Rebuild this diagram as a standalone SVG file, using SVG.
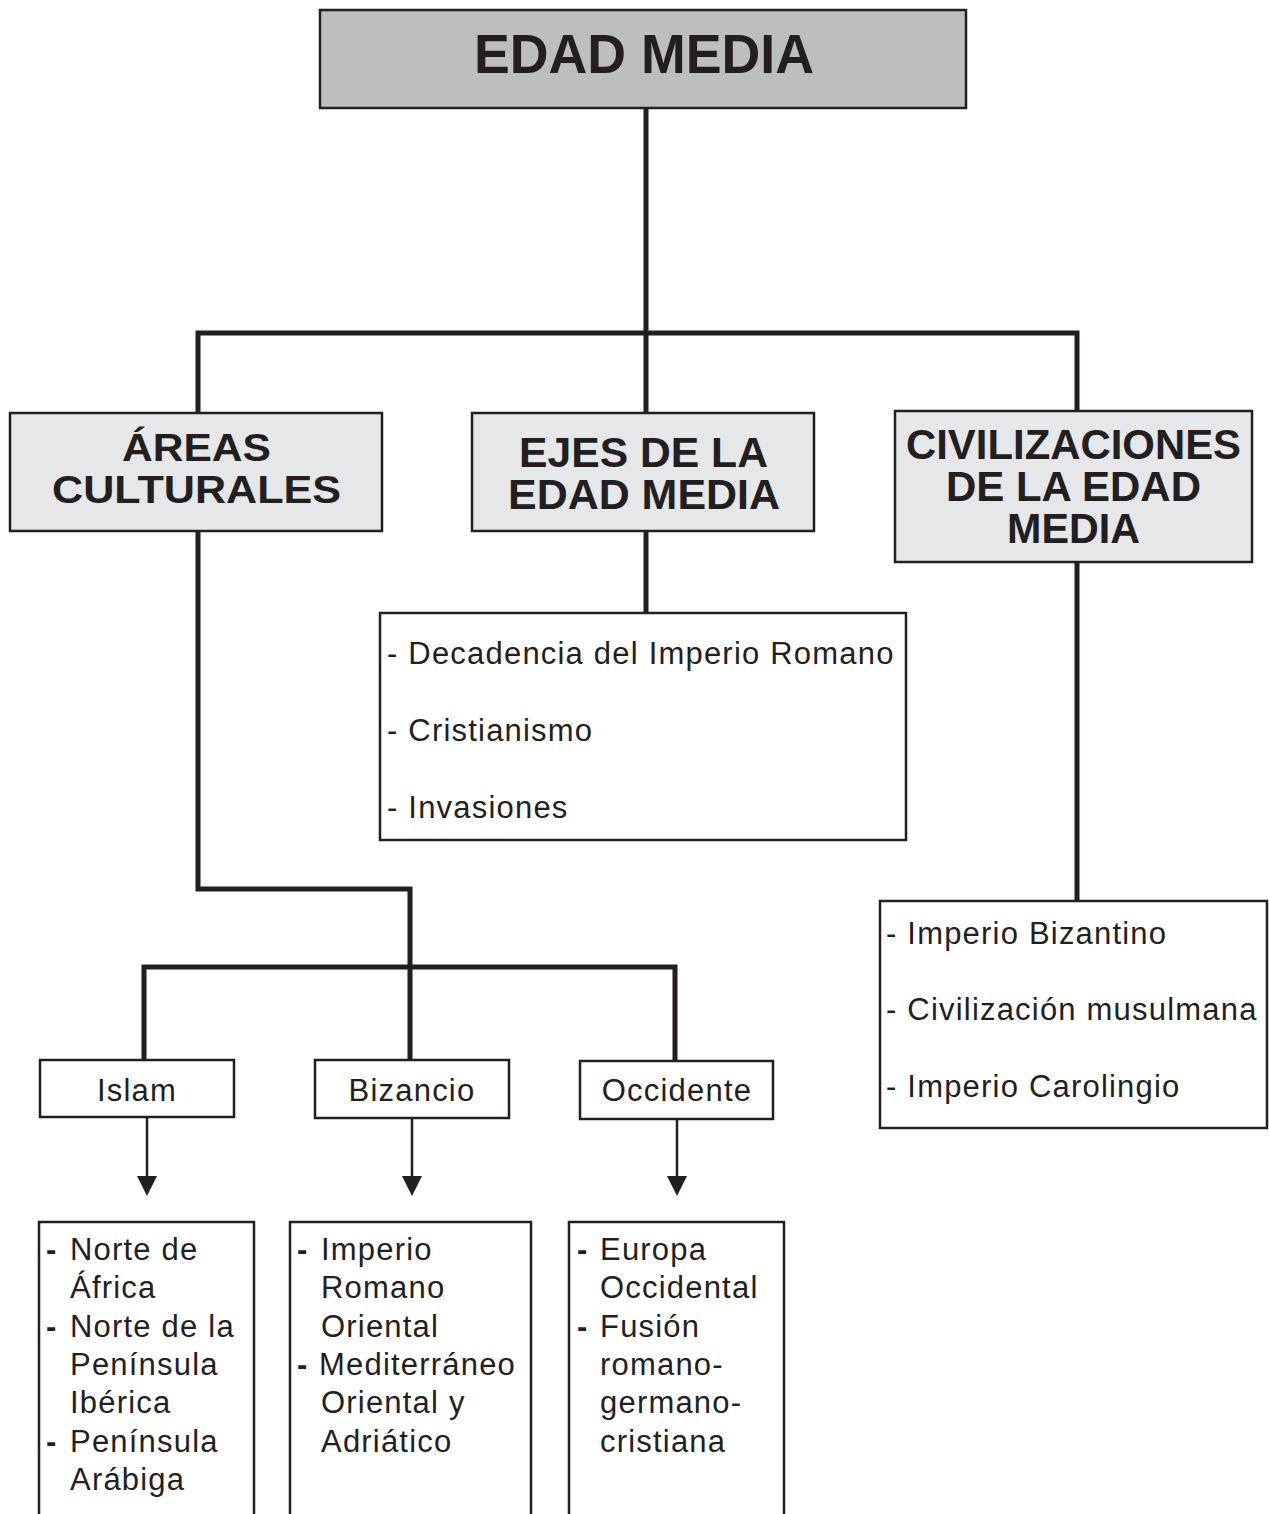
<svg xmlns="http://www.w3.org/2000/svg" width="1269" height="1514" viewBox="0 0 1269 1514">
  <style>
    .box { stroke: #231f20; stroke-width: 2.5; }
    .main { fill: #bcbec0; }
    .head { fill: #e6e7e8; }
    .plain { fill: #ffffff; }
    .conn { fill: none; stroke: #231f20; stroke-width: 5; stroke-linejoin: miter; stroke-linecap: square; }
    .thin { fill: none; stroke: #231f20; stroke-width: 2.5; }
    .tri { fill: #231f20; }
    .title { font-family: "Liberation Sans", Arial, sans-serif; font-weight: bold; fill: #231f20; }
    .body { font-family: "Liberation Sans", Arial, sans-serif; font-size: 31px; letter-spacing: 1.2px; fill: #231f20; }
    .dash { font-weight: bold; }
  </style>
  <rect width="1269" height="1514" fill="#ffffff"/>

  <!-- connectors -->
  <g id="connectors">
    <path class="conn" d="M646,108 V333 M198,333 H1077 M198,333 V413 M646,333 V413 M1077,333 V411"/>
    <path class="conn" d="M646,531 V613"/>
    <path class="conn" d="M1077,562 V901"/>
    <path class="conn" d="M198,531 V889 H410 V1060"/>
    <path class="conn" d="M144,1060 V967 H675 V1061"/>
    <path class="thin" d="M147,1117 V1180 M412,1118 V1180 M677,1119 V1180"/>
    <polygon class="tri" points="137,1176 157,1176 147,1196"/>
    <polygon class="tri" points="402,1176 422,1176 412,1196"/>
    <polygon class="tri" points="667,1176 687,1176 677,1196"/>
  </g>

  <!-- root -->
  <g id="edad-media">
    <rect class="box main" x="320" y="10" width="646" height="98"/>
    <text class="title" x="474" y="73" font-size="56" textLength="340" lengthAdjust="spacingAndGlyphs">EDAD MEDIA</text>
  </g>

  <!-- second level -->
  <g id="areas-culturales">
    <rect class="box head" x="10" y="413" width="372" height="118"/>
    <text class="title" x="122" y="461" font-size="38" textLength="149" lengthAdjust="spacingAndGlyphs">ÁREAS</text>
    <text class="title" x="52" y="503" font-size="38" textLength="289" lengthAdjust="spacingAndGlyphs">CULTURALES</text>
  </g>
  <g id="ejes">
    <rect class="box head" x="472" y="413" width="342" height="118"/>
    <text class="title" x="519" y="467" font-size="43" textLength="249" lengthAdjust="spacingAndGlyphs">EJES DE LA</text>
    <text class="title" x="508" y="509" font-size="43" textLength="272" lengthAdjust="spacingAndGlyphs">EDAD MEDIA</text>
  </g>
  <g id="civilizaciones">
    <rect class="box head" x="895" y="411" width="357" height="151"/>
    <text class="title" x="906" y="459" font-size="43" textLength="335" lengthAdjust="spacingAndGlyphs">CIVILIZACIONES</text>
    <text class="title" x="946" y="501" font-size="43" textLength="255" lengthAdjust="spacingAndGlyphs">DE LA EDAD</text>
    <text class="title" x="1007" y="543" font-size="43" textLength="133" lengthAdjust="spacingAndGlyphs">MEDIA</text>
  </g>

  <!-- lists -->
  <g id="ejes-lista">
    <rect class="box plain" x="380" y="613" width="526" height="227"/>
    <text class="body" x="387" y="664">- Decadencia del Imperio Romano</text>
    <text class="body" x="387" y="741">- Cristianismo</text>
    <text class="body" x="387" y="818">- Invasiones</text>
  </g>
  <g id="civilizaciones-lista">
    <rect class="box plain" x="880" y="901" width="387" height="227"/>
    <text class="body" x="886" y="944">- Imperio Bizantino</text>
    <text class="body" x="886" y="1020">- Civilización musulmana</text>
    <text class="body" x="886" y="1097">- Imperio Carolingio</text>
  </g>

  <!-- cultural areas -->
  <g id="islam">
    <rect class="box plain" x="40" y="1060" width="194" height="57"/>
    <text class="body" x="137" y="1101" text-anchor="middle">Islam</text>
  </g>
  <g id="bizancio">
    <rect class="box plain" x="315" y="1060" width="194" height="58"/>
    <text class="body" x="412" y="1101" text-anchor="middle">Bizancio</text>
  </g>
  <g id="occidente">
    <rect class="box plain" x="580" y="1061" width="193" height="58"/>
    <text class="body" x="677" y="1101" text-anchor="middle">Occidente</text>
  </g>

  <g id="islam-lista">
    <rect class="box plain" x="39" y="1222" width="215" height="320"/>
    <text class="body dash" x="46" y="1260">-</text>
    <text class="body" x="70" y="1260">Norte de</text>
    <text class="body" x="70" y="1298">África</text>
    <text class="body dash" x="46" y="1337">-</text>
    <text class="body" x="70" y="1337">Norte de la</text>
    <text class="body" x="70" y="1375">Península</text>
    <text class="body" x="70" y="1413">Ibérica</text>
    <text class="body dash" x="46" y="1452">-</text>
    <text class="body" x="70" y="1452">Península</text>
    <text class="body" x="70" y="1490">Arábiga</text>
  </g>
  <g id="bizancio-lista">
    <rect class="box plain" x="290" y="1222" width="241" height="320"/>
    <text class="body dash" x="297" y="1260">-</text>
    <text class="body" x="321" y="1260">Imperio</text>
    <text class="body" x="321" y="1298">Romano</text>
    <text class="body" x="321" y="1337">Oriental</text>
    <text class="body dash" x="297" y="1375">-</text>
    <text class="body" x="319" y="1375">Mediterráneo</text>
    <text class="body" x="321" y="1413">Oriental y</text>
    <text class="body" x="321" y="1452">Adriático</text>
  </g>
  <g id="occidente-lista">
    <rect class="box plain" x="569" y="1222" width="215" height="320"/>
    <text class="body dash" x="577" y="1260">-</text>
    <text class="body" x="600" y="1260">Europa</text>
    <text class="body" x="600" y="1298">Occidental</text>
    <text class="body dash" x="577" y="1337">-</text>
    <text class="body" x="600" y="1337">Fusión</text>
    <text class="body" x="600" y="1375">romano-</text>
    <text class="body" x="600" y="1413">germano-</text>
    <text class="body" x="600" y="1452">cristiana</text>
  </g>
</svg>
